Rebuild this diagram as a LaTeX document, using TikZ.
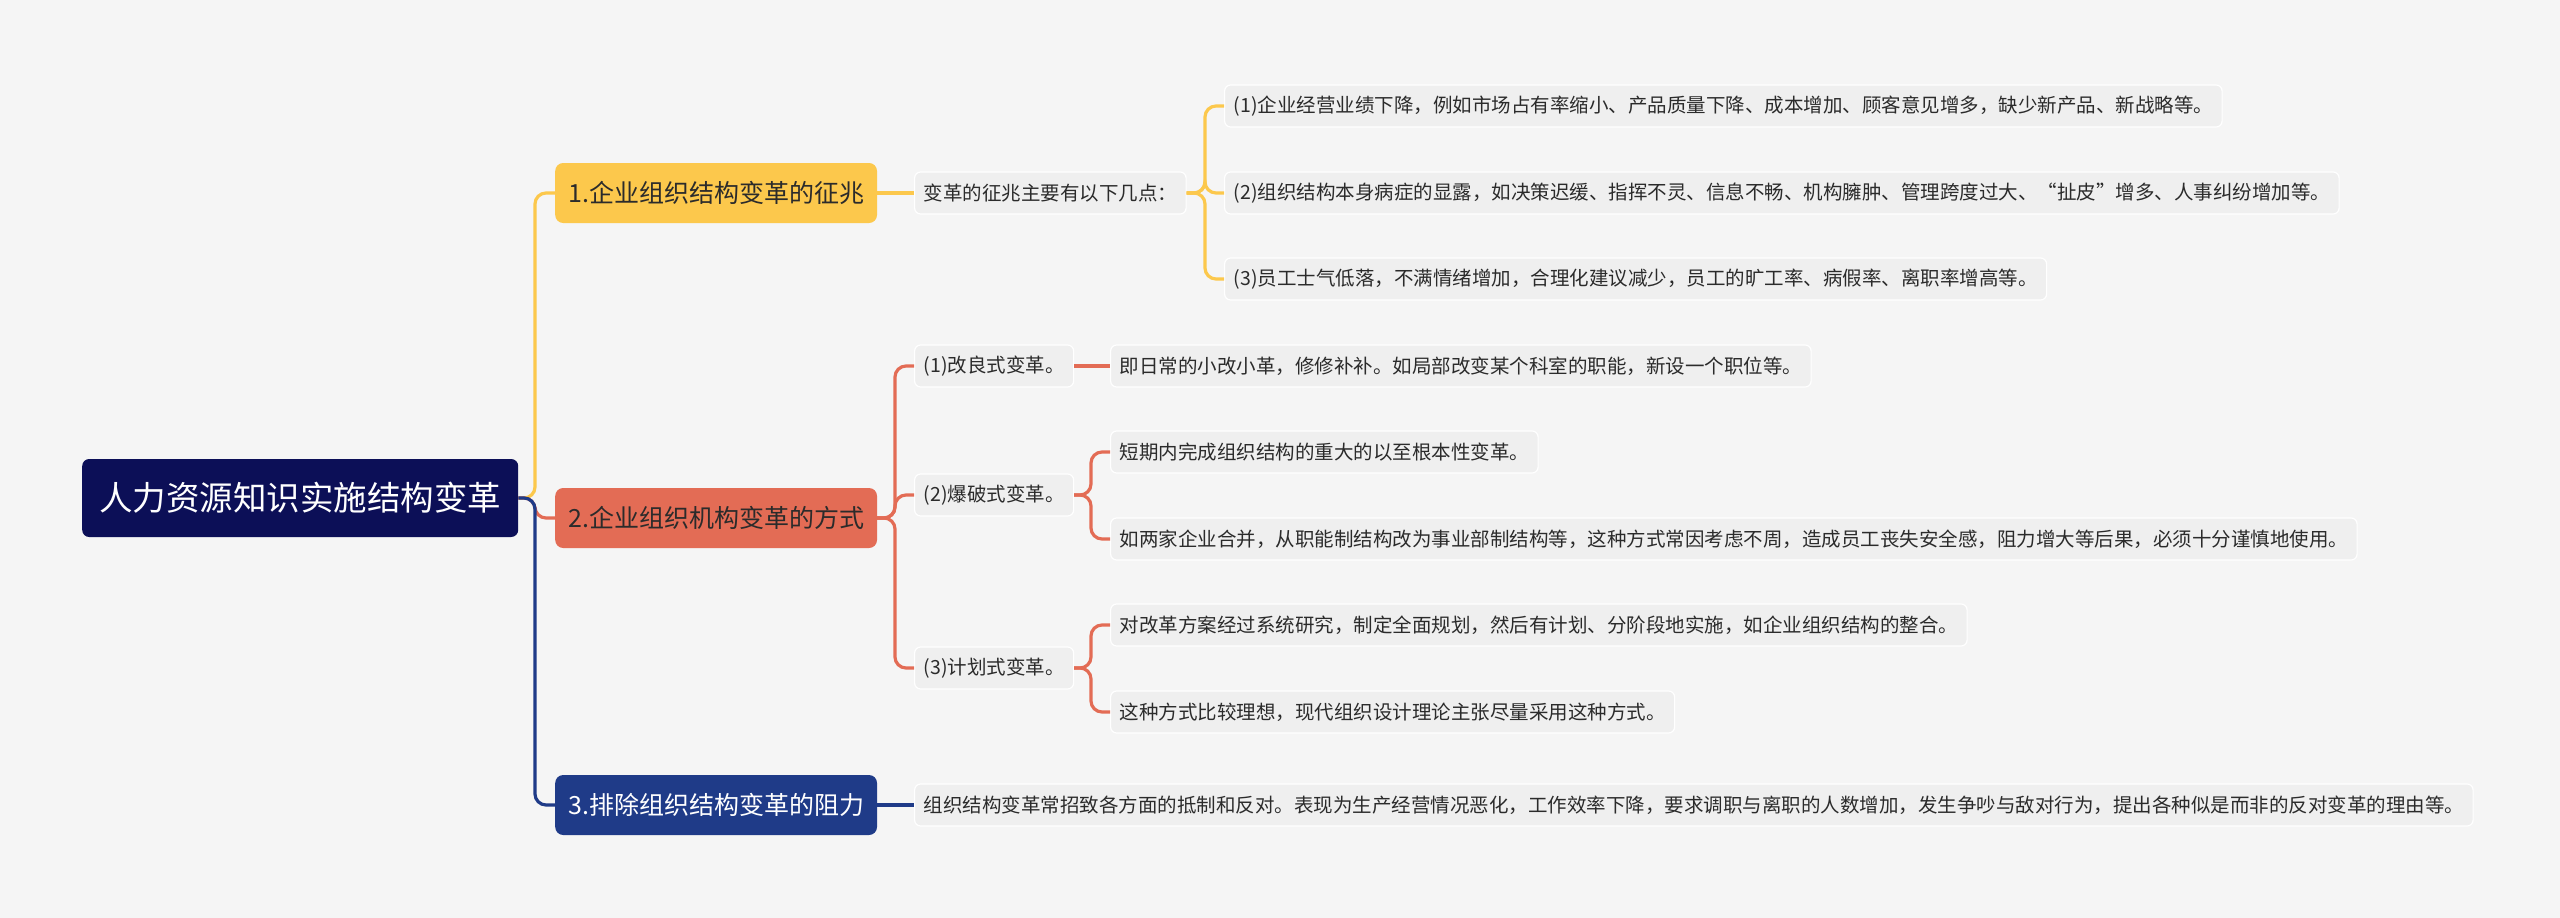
\documentclass[tikz,border=0pt]{standalone}
\usepackage{fontspec}
\setmainfont{Noto Sans CJK SC}
\usetikzlibrary{positioning}
\definecolor{bgc}{HTML}{F5F5F5}
\definecolor{rootc}{HTML}{0C0F57}
\definecolor{yelc}{HTML}{FCC84C}
\definecolor{orac}{HTML}{E36C55}
\definecolor{navc}{HTML}{1F3B88}
\definecolor{leafc}{HTML}{EFEFEF}
\definecolor{txtc}{HTML}{2B2B2B}
\tikzset{
  x=1pt, y=-1pt,
  rootbox/.style={fill=rootc, text=white, rounded corners=7pt, minimum height=78pt, inner xsep=17pt, anchor=west, font=\fontsize{33.5pt}{36pt}\selectfont},
  mainbox/.style={rounded corners=8pt, minimum height=60pt, inner xsep=13pt, anchor=west, font=\fontsize{25pt}{28pt}\selectfont},
  leafbox/.style={fill=leafc, draw=white, line width=1.2pt, text=txtc, rounded corners=6pt, minimum height=42pt, inner xsep=9pt, anchor=west, font=\fontsize{19.5pt}{22pt}\selectfont},
  conn/.style={line width=3.2pt, rounded corners=11pt},
}
\begin{document}
\begin{tikzpicture}
\fill[bgc] (0,0) rectangle (2560,918);
\useasboundingbox (0,0) rectangle (2560,918);
% root and main branches
\node[rootbox] (root) at (82,498) {人力资源知识实施结构变革};
\node[mainbox, fill=yelc, text=txtc] (n1) at (555,193) {1.企业组织结构变革的征兆};
\node[mainbox, fill=orac, text=txtc] (n2) at (555,518) {2.企业组织机构变革的方式};
\node[mainbox, fill=navc, text=white] (n3) at (555,805) {3.排除组织结构变革的阻力};
% branch 1
\node[leafbox] (s1) at (914,193) {变革的征兆主要有以下几点：};
\node[leafbox] (l1) at (1224,106) {(1)企业经营业绩下降，例如市场占有率缩小、产品质量下降、成本增加、顾客意见增多，缺少新产品、新战略等。};
\node[leafbox] (l2) at (1224,193) {(2)组织结构本身病症的显露，如决策迟缓、指挥不灵、信息不畅、机构臃肿、管理跨度过大、“扯皮”增多、人事纠纷增加等。};
\node[leafbox] (l3) at (1224,279) {(3)员工士气低落，不满情绪增加，合理化建议减少，员工的旷工率、病假率、离职率增高等。};
% branch 2
\node[leafbox] (c1) at (914,366) {(1)改良式变革。};
\node[leafbox] (d1) at (1110,366) {即日常的小改小革，修修补补。如局部改变某个科室的职能，新设一个职位等。};
\node[leafbox] (c2) at (914,495) {(2)爆破式变革。};
\node[leafbox] (d2a) at (1110,452) {短期内完成组织结构的重大的以至根本性变革。};
\node[leafbox] (d2b) at (1110,539) {如两家企业合并，从职能制结构改为事业部制结构等，这种方式常因考虑不周，造成员工丧失安全感，阻力增大等后果，必须十分谨慎地使用。};
\node[leafbox] (c3) at (914,668) {(3)计划式变革。};
\node[leafbox] (d3a) at (1110,625) {对改革方案经过系统研究，制定全面规划，然后有计划、分阶段地实施，如企业组织结构的整合。};
\node[leafbox] (d3b) at (1110,712) {这种方式比较理想，现代组织设计理论主张尽量采用这种方式。};
% branch 3
\node[leafbox] (r3) at (914,805) {组织结构变革常招致各方面的抵制和反对。表现为生产经营情况恶化，工作效率下降，要求调职与离职的人数增加，发生争吵与敌对行为，提出各种似是而非的反对变革的理由等。};
% junction coordinates
\coordinate (j0) at (535,498);
\coordinate (j1) at (1205,193);
\coordinate (j2) at (895,518);
\coordinate (j3) at (1091,495);
\coordinate (j4) at (1091,668);
% connectors root
\draw[conn, yelc] (root.east) -- (j0) |- (n1.west);
\draw[conn, orac] (root.east) -- (j0) |- (n2.west);
\draw[conn, navc] (root.east) -- (j0) |- (n3.west);
% connectors branch 1
\draw[conn, yelc] (n1.east) -- (s1.west);
\draw[conn, yelc] (s1.east) -- (j1) |- (l1.west);
\draw[conn, yelc] (s1.east) -- (j1) |- (l2.west);
\draw[conn, yelc] (s1.east) -- (j1) |- (l3.west);
% connectors branch 2
\draw[conn, orac] (n2.east) -- (j2) |- (c1.west);
\draw[conn, orac] (n2.east) -- (j2) |- (c2.west);
\draw[conn, orac] (n2.east) -- (j2) |- (c3.west);
\draw[conn, orac] (c1.east) -- (d1.west);
\draw[conn, orac] (c2.east) -- (j3) |- (d2a.west);
\draw[conn, orac] (c2.east) -- (j3) |- (d2b.west);
\draw[conn, orac] (c3.east) -- (j4) |- (d3a.west);
\draw[conn, orac] (c3.east) -- (j4) |- (d3b.west);
% connectors branch 3
\draw[conn, navc] (n3.east) -- (r3.west);
\end{tikzpicture}
\end{document}
